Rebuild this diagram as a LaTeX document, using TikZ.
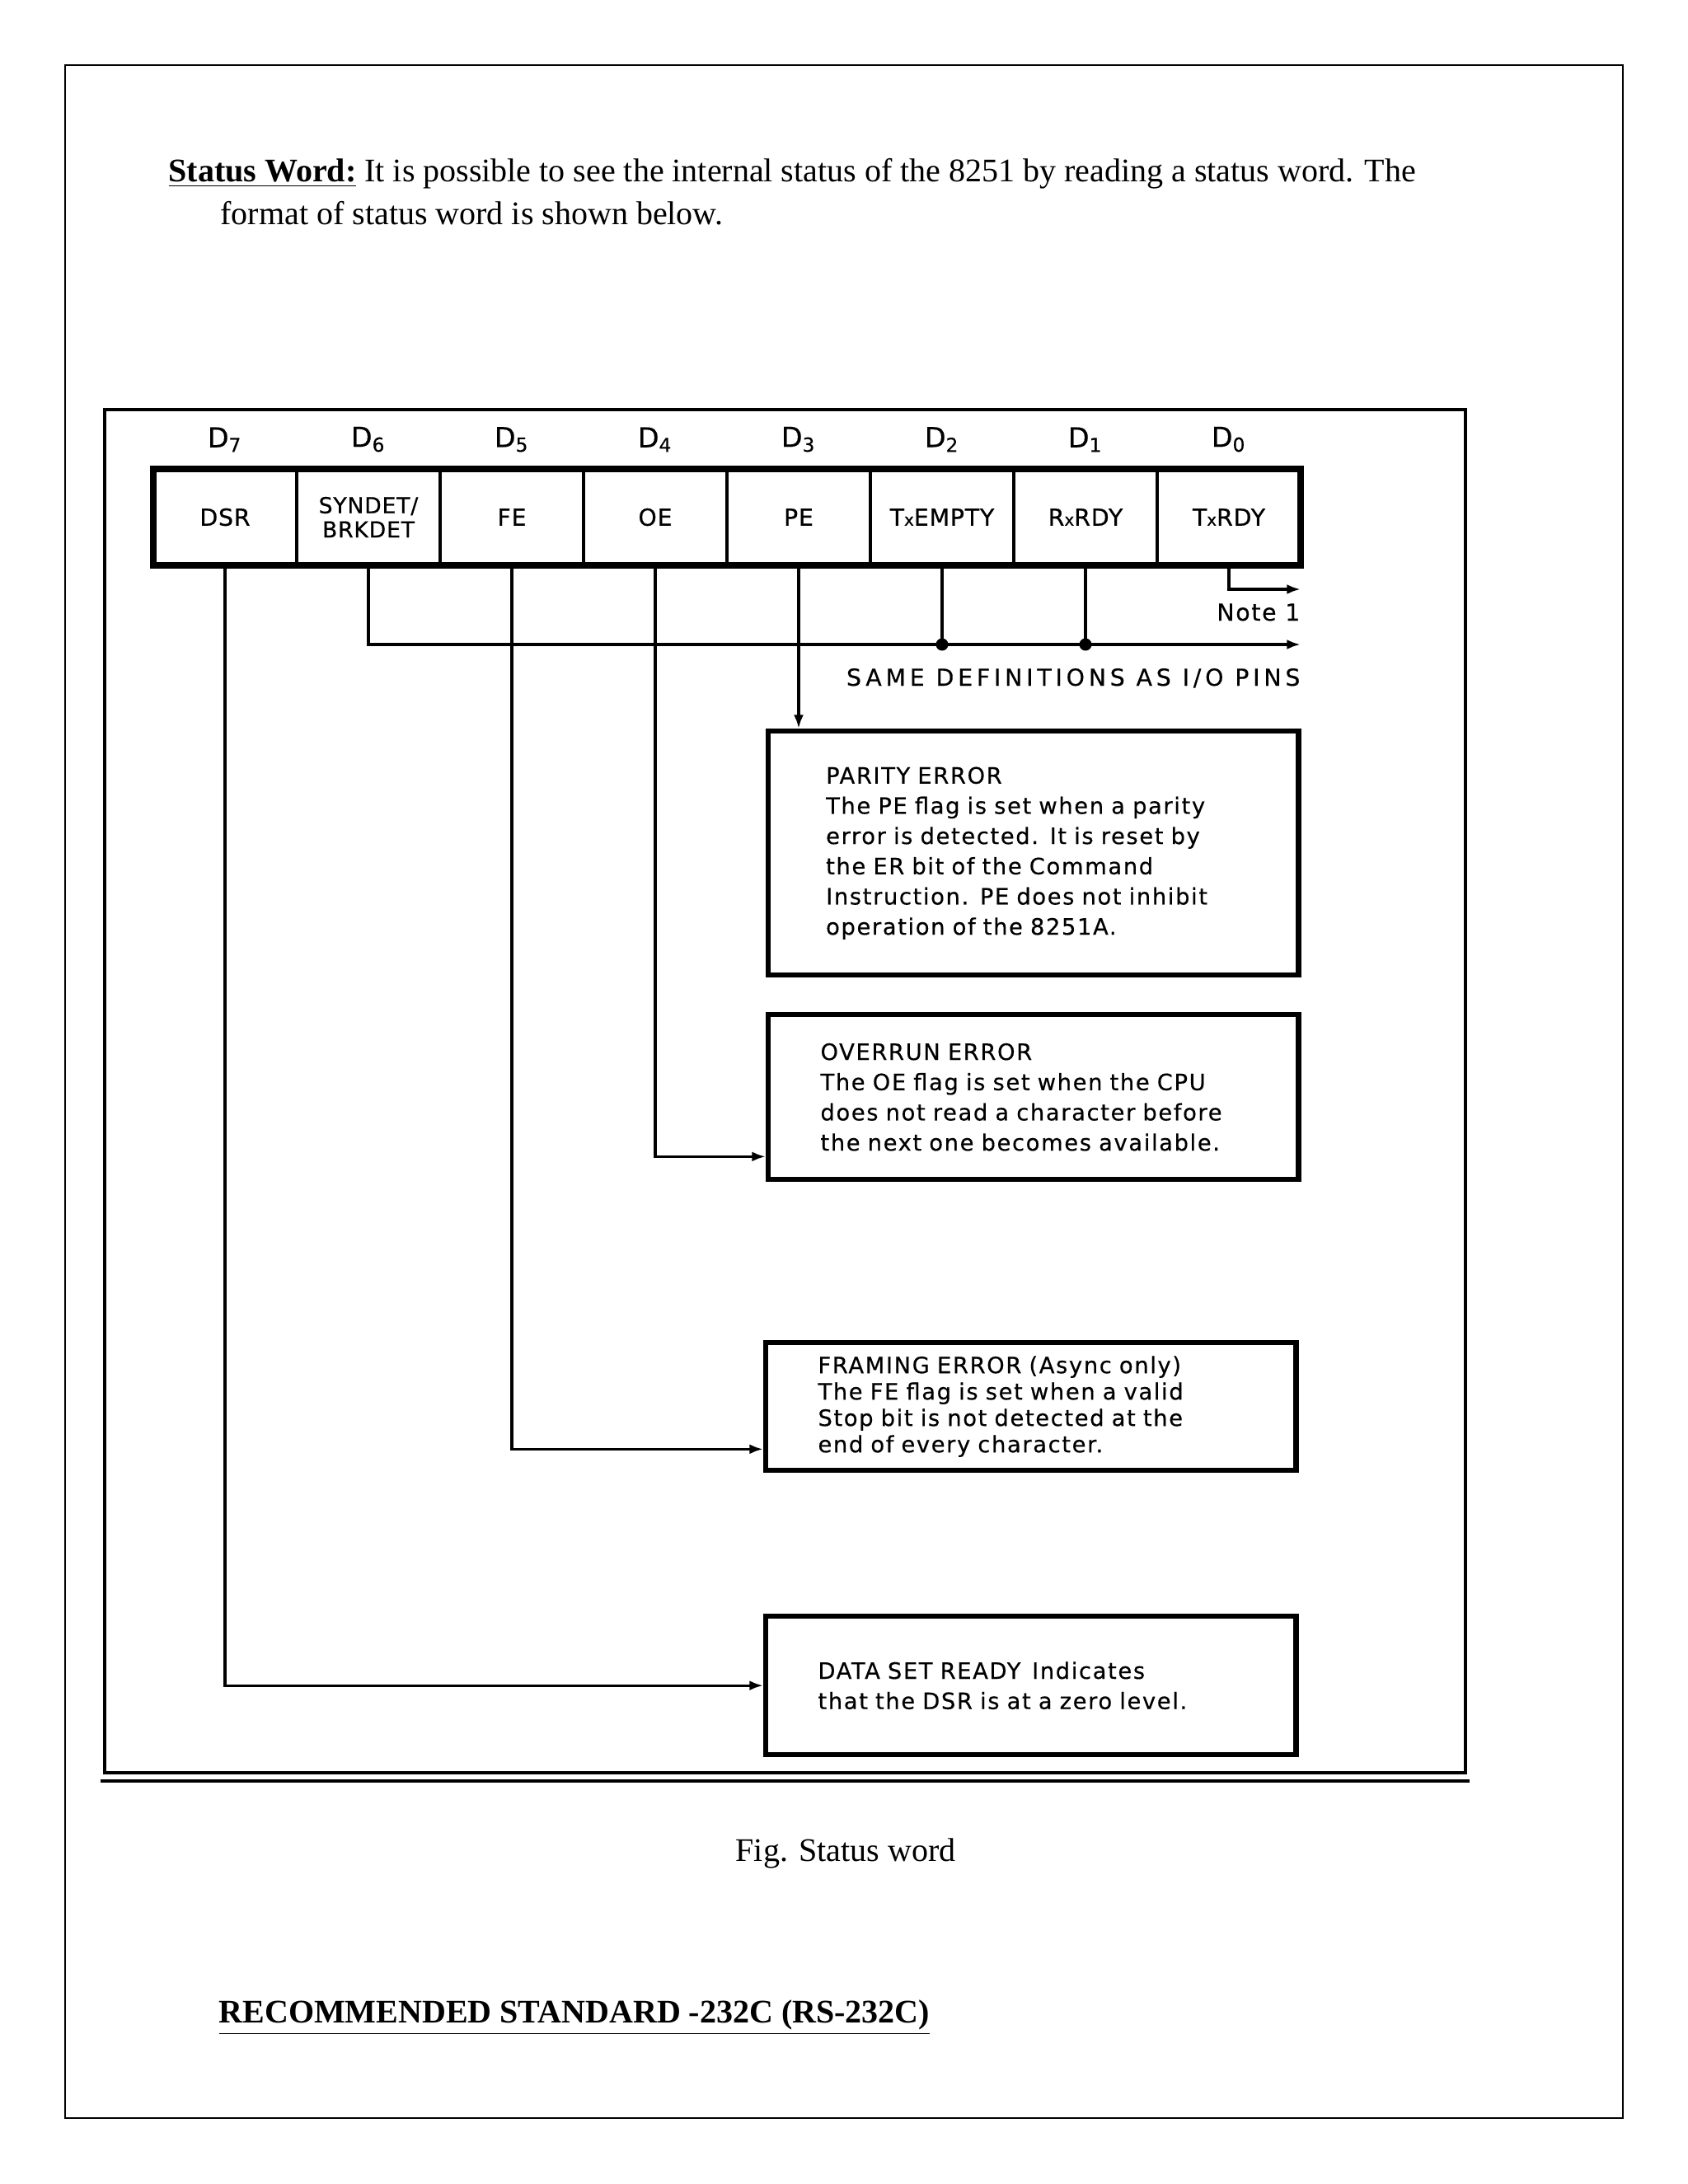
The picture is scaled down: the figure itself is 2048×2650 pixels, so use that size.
\documentclass[tikz,border=0pt]{standalone}
\usepackage{fontspec}
\setmainfont{Liberation Serif}
\newfontfamily\dsfont{DejaVu Sans}[LetterSpace=6, FakeBold=0.4]
\newfontfamily\dswide{DejaVu Sans}[LetterSpace=17, FakeBold=0.4]
\newfontfamily\dscell{DejaVu Sans}[LetterSpace=3, FakeBold=0.6]
\usepackage{tikz}
\usetikzlibrary{arrows.meta, positioning, calc}

\begin{document}
\begin{tikzpicture}[x=0.3pt, y=-0.3pt,
    pagetext/.style={inner sep=0pt, font=\fontsize{12}{14}\selectfont},
    cell/.style={draw, line width=1.1pt, minimum width=52.2pt, minimum height=35.1pt,
                 inner sep=0pt, outer sep=0pt, align=center,
                 font=\dscell\fontsize{8.5}{8.8}\selectfont},
    bitlbl/.style={inner sep=0pt, font=\dsfont\fontsize{10}{11}\selectfont},
    pinlbl/.style={inner sep=0pt, font=\dswide\fontsize{8.5}{9}\selectfont},
    flagbox/.style={draw, line width=1.9pt, anchor=north west, text width=155pt,
                    inner xsep=19pt, inner ysep=0pt, align=left,
                    font=\dsfont\fontsize{8.2}{11}\selectfont},
    link/.style={line width=1pt},
    arr/.style={link, -{Latex[length=5pt,width=3.6pt]}},
    dot/.style={circle, fill, inner sep=0pt, minimum size=4.5pt}
]
    \useasboundingbox (0,0) rectangle (2048,2650);
    \draw[line width=0.8pt] (79,79) rectangle (1969,2570);

    \node[pagetext, anchor=base west] (intro) at (204,220)
        {\textbf{\underline{Status Word:}} It is possible to see the internal status of the 8251 by reading a status word. The};
    \node[pagetext, anchor=base west] (intro2) at (267,272) {format of status word is shown below.};

    \draw[line width=1pt] (127,497) rectangle (1778,2151);

    % bit cells
    \node[cell] (d7) at (273,627.5) {DSR};
    \node[cell, right=0pt of d7, font=\dscell\fontsize{8}{8.8}\selectfont] (d6) {SYNDET/\\BRKDET};
    \node[cell, right=0pt of d6] (d5) {FE};
    \node[cell, right=0pt of d5] (d4) {OE};
    \node[cell, right=0pt of d4] (d3) {PE};
    \node[cell, right=0pt of d3] (d2) {T{\fontsize{6}{6}\selectfont x}EMPTY};
    \node[cell, right=0pt of d2] (d1) {R{\fontsize{6}{6}\selectfont x}RDY};
    \node[cell, right=0pt of d1] (d0) {T{\fontsize{6}{6}\selectfont x}RDY};
    \draw[line width=2.2pt] (d7.north west) rectangle (d0.south east);
    \foreach \i in {0,...,7}
        \node[bitlbl, above=6pt of d\i] (lbl\i) {D\textsubscript{\i}};

    \coordinate (noteend) at ($(d0.south east)+(0,29)$);
    \coordinate (busend) at ($(d0.south east)+(0,96)$);
    \draw[arr] (d0.south) |- (noteend);
    \node[bitlbl, font=\dsfont\fontsize{8.5}{9}\selectfont, anchor=north east] (note) at ([yshift=-5pt]noteend) {Note 1};
    \draw[arr] (d6.south) |- (busend);
    \draw[link] (d2.south) -- (d2.south |- busend) node[dot] (j2) {};
    \draw[link] (d1.south) -- (d1.south |- busend) node[dot] (j1) {};
    \node[pinlbl, anchor=north east] (same) at ([yshift=-8.5pt]busend) {SAME DEFINITIONS AS I/O PINS};

    % flag descriptions
    \node[flagbox, minimum height=88.8pt, inner xsep=21pt, text width=151pt] (pebox) at (929,884)
        {PARITY ERROR\\The PE flag is set when a parity\\error is detected. It is reset by\\the ER bit of the Command\\Instruction. PE does not inhibit\\operation of the 8251A.};
    \node[flagbox, minimum height=60pt] (oebox) at (929,1228)
        {OVERRUN ERROR\\The OE flag is set when the CPU\\does not read a character before\\the next one becomes available.};
    \node[flagbox, minimum height=46.5pt, font=\dsfont\fontsize{8.2}{9.6}\selectfont] (febox) at (926,1626)
        {FRAMING ERROR (Async only)\\The FE flag is set when a valid\\Stop bit is not detected at the\\end of every character.};
    \node[flagbox, minimum height=50.4pt] (dsrbox) at (926,1958)
        {DATA SET READY\enspace Indicates\\that the DSR is at a zero level.};

    \draw[arr] (d3.south) -- (d3.south |- pebox.north);
    \draw[arr] (d4.south) |- ([yshift=9.3pt]oebox.south west);
    \draw[arr] (d5.south) |- ([yshift=8.7pt]febox.south west);
    \draw[arr] (d7.south) |- (dsrbox.west);

    \draw[line width=1.3pt] (122,2161) -- (1783,2161);
    \node[pagetext, anchor=base west] (caption) at (892,2258) {Fig. Status word};
    \node[pagetext, anchor=base west] (rshead) at (265,2454)
        {\textbf{\underline{RECOMMENDED STANDARD -232C (RS-232C)}}};
\end{tikzpicture}
\end{document}
